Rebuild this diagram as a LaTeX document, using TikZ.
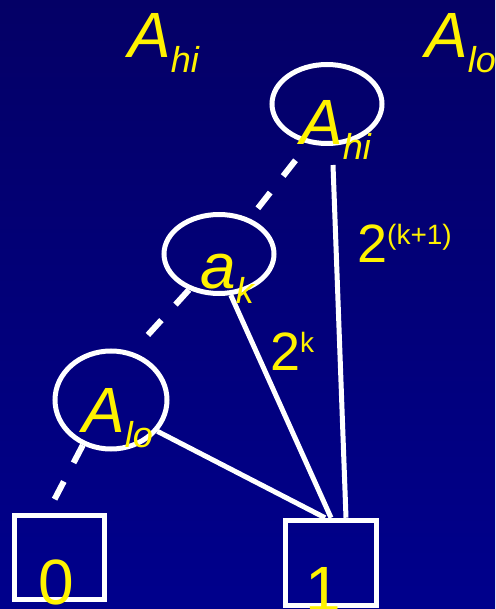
\documentclass[tikz,border=0pt]{standalone}
\usepackage{fontspec}
\setmainfont{Liberation Sans}
\usetikzlibrary{shapes.geometric, positioning, calc}
\definecolor{navytop}{RGB}{4,0,102}
\definecolor{navybot}{RGB}{0,0,140}
\newcommand{\lowsub}[1]{\raisebox{-15pt}{\fontsize{36}{36}\selectfont #1}}
\newcommand{\highsup}[1]{\raisebox{18pt}{\fontsize{28}{28}\selectfont #1}}

\begin{document}
\begin{tikzpicture}[x=1pt, y=-1pt,
	oval/.style={ellipse, draw=white, line width=5pt, minimum width=110pt, minimum height=79pt, inner sep=0pt},
	leaf/.style={rectangle, draw=white, line width=5.5pt, minimum width=90pt, minimum height=84pt, inner sep=0pt},
	lettertxt/.style={text=yellow, inner sep=0pt, font=\fontsize{64}{64}\selectfont\itshape},
	digittxt/.style={text=yellow, inner sep=0pt, font=\fontsize{64}{64}\selectfont},
	numtxt/.style={text=yellow, inner sep=0pt, font=\fontsize{54}{54}\selectfont},
	solidline/.style={white, line width=5pt},
	dashline/.style={white, line width=6pt, dash pattern=on 20pt off 21pt}
	]
	
	%Background
	\shade[top color=navytop, bottom color=navybot] (0,0) rectangle (495,609);
	\useasboundingbox (0,0) rectangle (495,609);
	
	\node[oval] (ahi) at (327,104) {};
	\node[oval] (ak) at (219,254) {};
	\node[oval, minimum width=112pt, minimum height=98pt] (alo) at (111,400) {};
	\node[leaf] (zero) at (59.5,557.5) {};
	\node[leaf, minimum width=91pt, minimum height=85pt] (one) at (331,563) {};
	
	\draw[dashline, dash phase=20pt] (ahi.245) -- (ak.49);
	\draw[dashline, shorten >=4pt] (ak.230) -- (alo.66);
	\draw[dashline] (alo.238) -- (zero.105);
	\draw[solidline] ([xshift=6pt,yshift=-19pt]ahi.south) -- ([xshift=15pt]one.north);
	\draw[solidline] (ak.286) -- (one.north);
	\draw[solidline] (alo.326) -- ([xshift=-6pt]one.north);
	
	\node[lettertxt, anchor=base west] (ahitop) at (128,58) {A\lowsub{hi}};
	\node[lettertxt, anchor=base west] (alotop) at (425,58) {A\lowsub{lo}};
	\node[lettertxt, anchor=base west] (ahitxt) at (300,145) {A\lowsub{hi}};
	\node[lettertxt, anchor=base west] (aktxt) at (200,288) {a\lowsub{k}};
	\node[lettertxt, anchor=base west] (alotxt) at (82,432) {A\lowsub{lo}};
	\node[digittxt, anchor=base] (zerotxt) at (56,604) {0};
	\node[digittxt, anchor=base] (onetxt) at (323,611) {1};
	\node[numtxt, anchor=base west] (wtop) at (357,262) {2\highsup{(k+1)}};
	\node[numtxt, anchor=base west] (wk) at (270,370) {2\highsup{k}};
\end{tikzpicture}
\end{document}
